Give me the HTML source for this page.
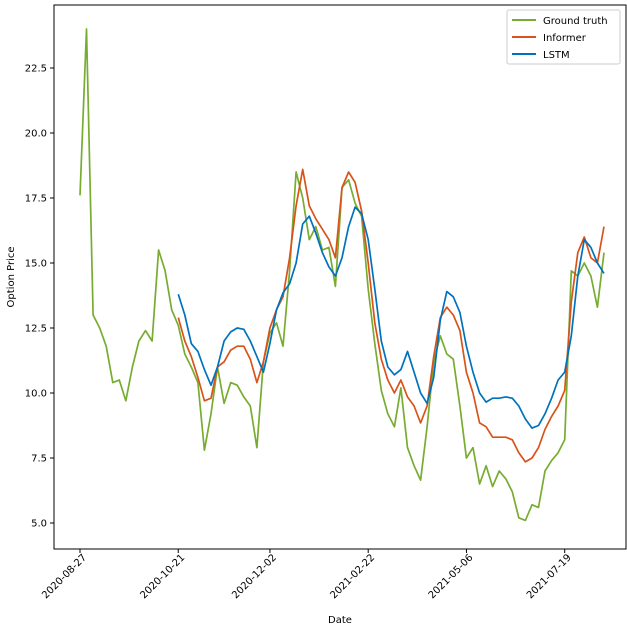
<!DOCTYPE html>
<html><head><meta charset="utf-8"><style>
body{margin:0;background:#fff;}
svg{display:block;font-family:"DejaVu Sans","Liberation Sans",sans-serif;}
</style></head><body>
<svg id="chart" width="627" height="627">
<rect x="54" y="5" width="572" height="544" fill="none" stroke="#000" stroke-width="1"/>
<g id="axes"></g><g id="series"></g>
<text x="340" y="623" font-size="10" text-anchor="middle">Date</text>
<text x="14" y="277" font-size="10" text-anchor="middle" transform="rotate(-90 14 277)">Option Price</text>
<g>
<rect x="507" y="10" width="113" height="54" fill="#fff" stroke="#ccc" rx="2"/>
<line x1="512" y1="20" x2="536" y2="20" stroke="#77ac30" stroke-width="2"/>
<text x="543" y="24" font-size="10">Ground truth</text>
<line x1="512" y1="37" x2="536" y2="37" stroke="#d95319" stroke-width="2"/>
<text x="543" y="41" font-size="10">Informer</text>
<line x1="512" y1="54" x2="536" y2="54" stroke="#0072bd" stroke-width="2"/>
<text x="543" y="58" font-size="10">LSTM</text>
</g>
</svg>
<script>
const xTickLabels=["2020-08-27","2020-10-21","2020-12-02","2021-02-22","2021-05-06","2021-07-19"];
const xTickIndex=[0,15,29,44,59,74];
const yTicks=[5.0,7.5,10.0,12.5,15.0,17.5,20.0,22.5];
const groundTruth=[17.6,24.0,13.0,12.5,11.8,10.4,10.5,9.7,11.0,12.0,12.4,12.0,15.5,14.7,13.2,12.6,11.5,11.0,10.4,7.8,9.2,11.0,9.6,10.4,10.3,9.85,9.5,7.9,11.2,12.3,12.7,11.8,14.7,18.5,17.5,15.9,16.4,15.5,15.6,14.1,17.9,18.2,17.3,16.8,14.0,11.9,10.1,9.2,8.7,10.2,7.9,7.2,6.65,8.7,11.2,12.2,11.5,11.3,9.5,7.5,7.9,6.5,7.2,6.4,7.0,6.7,6.2,5.2,5.1,5.7,5.6,7.0,7.4,7.7,8.2,14.7,14.5,15.0,14.5,13.3,15.4];
const predStart=15;
const informer=[12.9,12.0,11.4,10.6,9.7,9.8,11.0,11.2,11.65,11.8,11.8,11.3,10.4,11.2,12.5,13.2,13.7,15.2,17.2,18.6,17.2,16.7,16.3,15.9,15.2,17.9,18.5,18.1,17.0,15.0,12.7,11.3,10.5,10.0,10.5,9.85,9.5,8.85,9.5,11.4,12.9,13.3,13.0,12.4,10.8,10.0,8.85,8.7,8.3,8.3,8.3,8.2,7.7,7.35,7.5,7.9,8.6,9.1,9.5,10.1,13.5,15.4,16.0,15.2,15.0,16.4];
const lstm=[13.8,13.0,11.9,11.6,10.9,10.3,11.0,12.0,12.35,12.5,12.45,12.0,11.4,10.8,11.9,13.2,13.85,14.2,15.0,16.5,16.8,16.15,15.4,14.85,14.5,15.2,16.4,17.15,16.9,15.9,14.0,12.0,11.0,10.7,10.9,11.6,10.8,10.0,9.6,10.6,12.8,13.9,13.7,13.1,11.8,10.8,10.0,9.65,9.8,9.8,9.85,9.8,9.5,9.0,8.65,8.75,9.2,9.8,10.5,10.8,12.2,14.5,15.9,15.6,15.0,14.6];

const NS="http://www.w3.org/2000/svg";
const xS=i=>80+i*6.55;
const yS=v=>523-(v-5)*26;
const axes=document.getElementById('axes'), ser=document.getElementById('series');
function mk(tag,attrs,parent){const e=document.createElementNS(NS,tag);for(const k in attrs)e.setAttribute(k,attrs[k]);parent.appendChild(e);return e;}
yTicks.forEach(v=>{
  const y=yS(v);
  const l=mk('line',{x1:50,x2:54,y1:y,y2:y,stroke:'#000'},axes);
  
  
  const t=mk('text',{x:47,y:y+3.5,'font-size':10,'text-anchor':'end'},axes);
  t.textContent=v.toFixed(1);
  
  
});
xTickLabels.forEach((lab,k)=>{
  const x=xS(xTickIndex[k]);
  const l=mk('line',{x1:x,x2:x,y1:549,y2:553,stroke:'#000'},axes);
  
  
  const t=mk('text',{x:x+7,y:558,'font-size':10,'text-anchor':'end',transform:`rotate(-45 ${x+7} 558)`},axes);
  t.textContent=lab;
  
  
});
function line(vals,start,color,name){
  const d=vals.map((v,i)=>(i?'L':'M')+xS(start+i).toFixed(1)+' '+yS(v).toFixed(1)).join(' ');
  const p=mk('path',{d:d,fill:'none',stroke:color,'stroke-width':1.7,'stroke-linejoin':'round'},ser);
  
  
}
line(groundTruth,0,'#77ac30','ground-truth-line');
line(informer,predStart,'#d95319','informer-line');
line(lstm,predStart,'#0072bd','lstm-line');
</script>
</body></html>
